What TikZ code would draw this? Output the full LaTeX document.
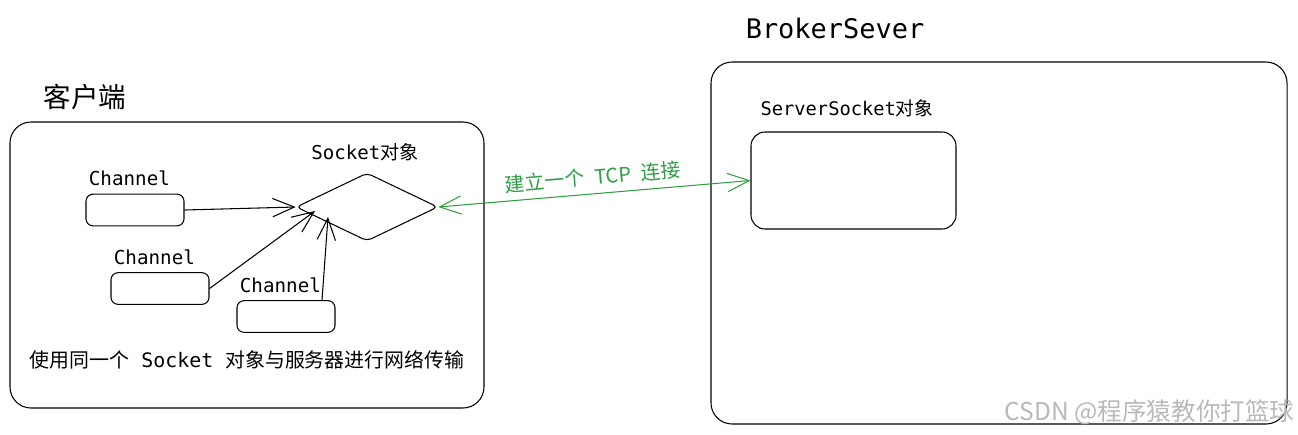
\documentclass[tikz,border=0pt]{standalone}
\usepackage{fontspec}
\setmonofont{DejaVu Sans Mono}
\newfontfamily\cjk{Noto Sans CJK SC}
\usetikzlibrary{arrows.meta,shapes.geometric,positioning}

\definecolor{tcpgreen}{RGB}{47,158,68}

\begin{document}
\begin{tikzpicture}[x=0.03cm,y=-0.03cm,line width=0.9pt,
  box/.style={draw,rounded corners=#1,inner sep=0pt},box/.default=6pt,
  lbl/.style={inner sep=0pt,font=\ttfamily\fontsize{16.4}{20}\selectfont},
  arr/.style={-{Straight Barb[length=6.5mm,width=5.5mm]}}]
\useasboundingbox (0,0) rectangle (1298,434);
% client side
\node[box=18pt,minimum width=14.22cm,minimum height=8.58cm] (client) at (247,265) {};
\node[inner sep=0pt,font=\cjk\fontsize{23.5}{28}\selectfont] (clientlbl) at (85,97) {客户端};
\node[draw,diamond,rounded corners=4pt,minimum width=4.25cm,minimum height=2.04cm,inner sep=0pt] (sock) at (367,207) {};
\node[lbl,font=\ttfamily\fontsize{16.3}{19}\selectfont] (socklbl) at (365,152) {Socket{\cjk 对象}};
\foreach \n/\x/\y in {ch1/135/210,ch2/160/288.5,ch3/286/316.5} {%
  \node[box,minimum width=2.94cm,minimum height=0.95cm] (\n) at (\x,\y) {};
  \node[lbl,above right=6pt and 2.5pt of \n.north west] {Channel};
}
\coordinate (in2) at (315,211);
\coordinate (in3) at (328,217);
\draw[arr] (ch1.east) -- (sock.west);
\draw[arr] (ch2.east) -- (in2);
\draw[arr] ([xshift=1.08cm]ch3.north) -- (in3);
\node[lbl,font=\ttfamily\fontsize{17}{20}\selectfont] (note) at (247,360) {{\cjk 使用同一个} Socket {\cjk 对象与服务器进行网络传输}};
% server side
\node[box=18pt,minimum width=17.28cm,minimum height=10.86cm] (server) at (999,243) {};
\node[lbl,font=\ttfamily\fontsize{23}{28}\selectfont] (serverlbl) at (835,28) {BrokerSever};
\node[box=12pt,minimum width=6.15cm,minimum height=2.91cm] (ssock) at (853.5,180.5) {};
\node[lbl,font=\ttfamily\fontsize{16}{19}\selectfont] (ssocklbl) at (847,108) {ServerSocket{\cjk 对象}};
% connection
\draw[tcpgreen,{Straight Barb[length=6.5mm,width=5.5mm]}-{Straight Barb[length=6.5mm,width=5.5mm]}] (sock.east) -- node[sloped,above=6pt,inner sep=0pt,font=\cjk\fontsize{17}{20}\selectfont] {建立一个\hspace{0.5em}TCP\hspace{0.5em}连接} (ssock.west);
\node[anchor=east,inner sep=0pt,font=\cjk\fontsize{21}{24}\selectfont,text=gray!55] (mark) at (1295,412) {CSDN @程序猿教你打篮球};
\end{tikzpicture}
\end{document}
